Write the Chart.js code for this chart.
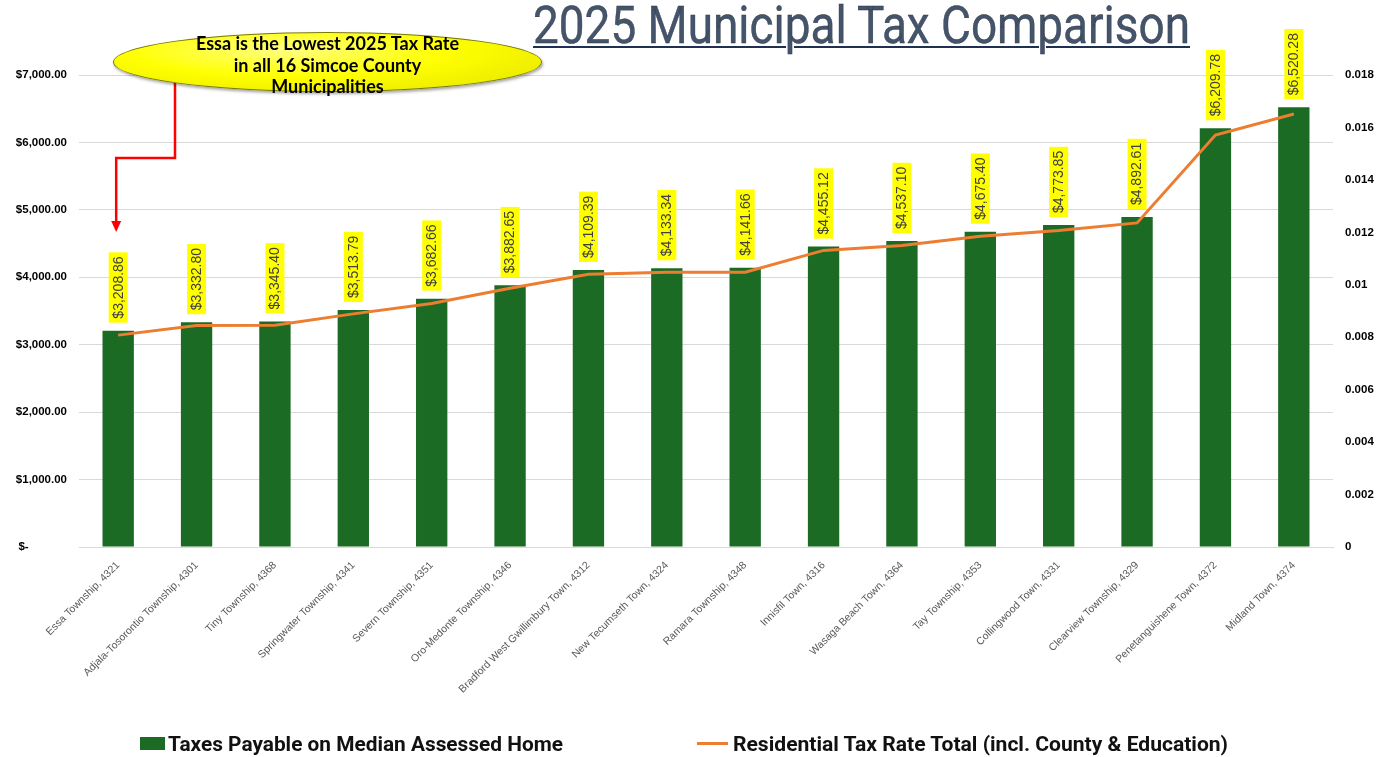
<!DOCTYPE html>
<html>
<head>
<meta charset="utf-8">
<title>2025 Municipal Tax Comparison</title>
<script src="https://cdn.jsdelivr.net/npm/chart.js@4.4.1/dist/chart.umd.min.js"></script>
<style>
  html, body { margin: 0; padding: 0; background: #fff; }
  #wrap { position: relative; width: 1393px; height: 757px; overflow: hidden; }
  #chart-box { position: absolute; left: 0; top: 0; width: 1393px; height: 757px; z-index: 1; }
  .fit { position: absolute; white-space: nowrap; transform-origin: 0 0; }
  .title {
    left: 533px; top: 0px; z-index: 2;
    font-family: Roboto, sans-serif; font-weight: 400; font-size: 51px; line-height: 51px;
    color: #44546A; -webkit-text-stroke: 0.4px #2E3A48;
    text-decoration: underline; text-decoration-color: #1F3050;
    text-decoration-thickness: 2px; text-underline-offset: 3px;
  }
  .callout {
    position: absolute; left: 113px; top: 32px; width: 427px; height: 58px; z-index: 2;
    border-radius: 50%; border: 1px solid #7a7a00;
    background: radial-gradient(ellipse at 40% 30%, #ffff80 0%, #ffff00 45%, #e2e200 100%);
    box-shadow: 1px 2px 3px rgba(0,0,0,0.35);
  }
  .callout-text {
    position: absolute; left: 113px; width: 429px; top: 33px; z-index: 3;
    text-align: center; font: 700 18px/21.5px Lato, sans-serif; color: #000;
  }
  .legend-text {
    top: 734px; z-index: 2;
    font-family: Roboto, sans-serif; font-weight: 700; font-size: 20px; line-height: 20px; color: #111;
  }
  .swatch { position: absolute; z-index: 2; }
</style>
</head>
<body>
<div id="wrap">
  <div id="chart-box"><canvas id="taxChart"></canvas></div>

  <div class="fit title" data-w="657">2025 Municipal Tax Comparison</div>

  <div class="callout"></div>
  <div class="callout-text">Essa is the Lowest 2025 Tax Rate<br>in all 16 Simcoe County<br>Municipalities</div>

  <div class="swatch" style="left:140px;top:737px;width:25px;height:13px;background:#1B6B24"></div>
  <div class="fit legend-text" style="left:168px" data-w="395">Taxes Payable on Median Assessed Home</div>
  <div class="swatch" style="left:697px;top:742px;width:31px;height:3px;background:#ED7D31"></div>
  <div class="fit legend-text" style="left:733px" data-w="495">Residential Tax Rate Total (incl. County &amp; Education)</div>
</div>

<script>
// 市町村（类别）
const categories = [
  'Essa Township, 4321',
  'Adjala-Tosorontio Township, 4301',
  'Tiny Township, 4368',
  'Springwater Township, 4341',
  'Severn Township, 4351',
  'Oro-Medonte Township, 4346',
  'Bradford West Gwillimbury Town, 4312',
  'New Tecumseth Town, 4324',
  'Ramara Township, 4348',
  'Innisfil Town, 4316',
  'Wasaga Beach Town, 4364',
  'Tay Township, 4353',
  'Collingwood Town, 4331',
  'Clearview Township, 4329',
  'Penetanguishene Town, 4372',
  'Midland Town, 4374'
];

// Taxes payable on median assessed home ($)
const taxesPayable = [
  3208.86, 3332.80, 3345.40, 3513.79, 3682.66, 3882.65, 4109.39, 4133.34,
  4141.66, 4455.12, 4537.10, 4675.40, 4773.85, 4892.61, 6209.78, 6520.28
];

// Residential tax rate total
const taxRates = [
  0.00808, 0.00845, 0.00846, 0.00889, 0.00929, 0.00987, 0.01040, 0.01048,
  0.01048, 0.01131, 0.01150, 0.01185, 0.01207, 0.01236, 0.01571, 0.01651
];

// Axis ticks
const taxTicks = [0, 1000, 2000, 3000, 4000, 5000, 6000, 7000];
const rateTicks = [0, 0.002, 0.004, 0.006, 0.008, 0.01, 0.012, 0.014, 0.016, 0.018];

const colors = {
  bar: '#1B6B24',
  line: '#ED7D31',
  grid: '#D9D9D9',
  labelBg: '#FFFF00',
  labelText: '#404040',
  arrow: '#FF0000'
};

const FONT = '"Liberation Sans", Arial, sans-serif';

function money(v) {
  return '$' + v.toLocaleString('en-US', { minimumFractionDigits: 2, maximumFractionDigits: 2 });
}

function barMeta(chart) {
  const idx = chart.data.datasets.findIndex(d => d.type === 'bar');
  return chart.getDatasetMeta(idx);
}

// 柱顶的黄色数值标签（竖排）
const valueLabels = {
  id: 'valueLabels',
  afterDatasetsDraw(chart) {
    const meta = barMeta(chart);
    const c = chart.ctx;
    c.save();
    c.font = '14px ' + FONT;
    meta.data.forEach((bar, i) => {
      const txt = money(taxesPayable[i]);
      const w = c.measureText(txt).width;
      c.save();
      c.translate(bar.x, bar.y - 8);
      c.rotate(-Math.PI / 2);
      c.fillStyle = colors.labelBg;
      c.fillRect(0, -9.5, w + 8, 19);
      c.fillStyle = colors.labelText;
      c.textAlign = 'left';
      c.textBaseline = 'middle';
      c.fillText(txt, 4, 0.5);
      c.restore();
    });
    c.restore();
  }
};

// 红色箭头：从气泡指向 Essa
const calloutArrow = {
  id: 'calloutArrow',
  afterDraw(chart) {
    const tipX = barMeta(chart).data[0].x - 2;
    const c = chart.ctx;
    c.save();
    c.strokeStyle = colors.arrow;
    c.lineWidth = 2.5;
    c.beginPath();
    c.moveTo(175, 83);
    c.lineTo(175, 158);
    c.lineTo(tipX, 158);
    c.lineTo(tipX, 222);
    c.stroke();
    c.fillStyle = colors.arrow;
    c.beginPath();
    c.moveTo(tipX - 5, 221);
    c.lineTo(tipX + 5, 221);
    c.lineTo(tipX, 232);
    c.closePath();
    c.fill();
    c.restore();
  }
};

Chart.defaults.font.family = FONT;

new Chart(document.getElementById('taxChart'), {
  type: 'bar',
  data: {
    labels: categories,
    datasets: [
      {
        type: 'line',
        label: 'Residential Tax Rate Total (incl. County & Education)',
        data: taxRates,
        yAxisID: 'yRate',
        borderColor: colors.line,
        backgroundColor: colors.line,
        borderWidth: 3,
        pointRadius: 0,
        tension: 0,
        order: 0
      },
      {
        type: 'bar',
        label: 'Taxes Payable on Median Assessed Home',
        data: taxesPayable,
        yAxisID: 'yTax',
        backgroundColor: colors.bar,
        categoryPercentage: 1,
        barPercentage: 0.4,
        order: 1
      }
    ]
  },
  options: {
    responsive: true,
    maintainAspectRatio: false,
    animation: false,
    layout: { padding: { top: 75, left: 0, right: 0, bottom: 0 } },
    plugins: {
      legend: { display: false },
      tooltip: { enabled: false }
    },
    scales: {
      x: {
        grid: { display: false },
        border: { color: colors.grid },
        ticks: {
          autoSkip: false,
          minRotation: 45,
          maxRotation: 45,
          color: '#595959',
          font: { size: 10.5 },
          padding: 4
        },
        afterFit(s) { s.height = 210; }
      },
      yTax: {
        position: 'left',
        min: taxTicks[0],
        max: taxTicks[taxTicks.length - 1],
        afterBuildTicks(s) { s.ticks = taxTicks.map(v => ({ value: v })); },
        ticks: {
          padding: 12,
          color: '#000',
          font: { size: 11.5, weight: 'bold' },
          callback: v => v === 0 ? '$-' + '\u2007'.repeat(6) : money(v)
        },
        grid: { color: colors.grid, drawTicks: false },
        border: { display: false },
        afterFit(s) { s.width = 79; }
      },
      yRate: {
        position: 'right',
        min: rateTicks[0],
        max: rateTicks[rateTicks.length - 1],
        afterBuildTicks(s) { s.ticks = rateTicks.map(v => ({ value: v })); },
        ticks: {
          padding: 12,
          color: '#000',
          font: { size: 11.5, weight: 'bold' },
          callback: v => String(parseFloat(Number(v).toFixed(3)))
        },
        grid: { drawOnChartArea: false, drawTicks: false },
        border: { display: false },
        afterFit(s) { s.width = 60; }
      }
    }
  },
  plugins: [valueLabels, calloutArrow]
});

// 标题和图例文字压缩到参考宽度
function fitText() {
  document.querySelectorAll('.fit').forEach(el => {
    el.style.transform = 'none';
    const w = el.getBoundingClientRect().width;
    el.style.transform = 'scaleX(' + (Number(el.dataset.w) / w) + ')';
  });
}
fitText();
if (document.fonts && document.fonts.ready) document.fonts.ready.then(fitText);
</script>
</body>
</html>
